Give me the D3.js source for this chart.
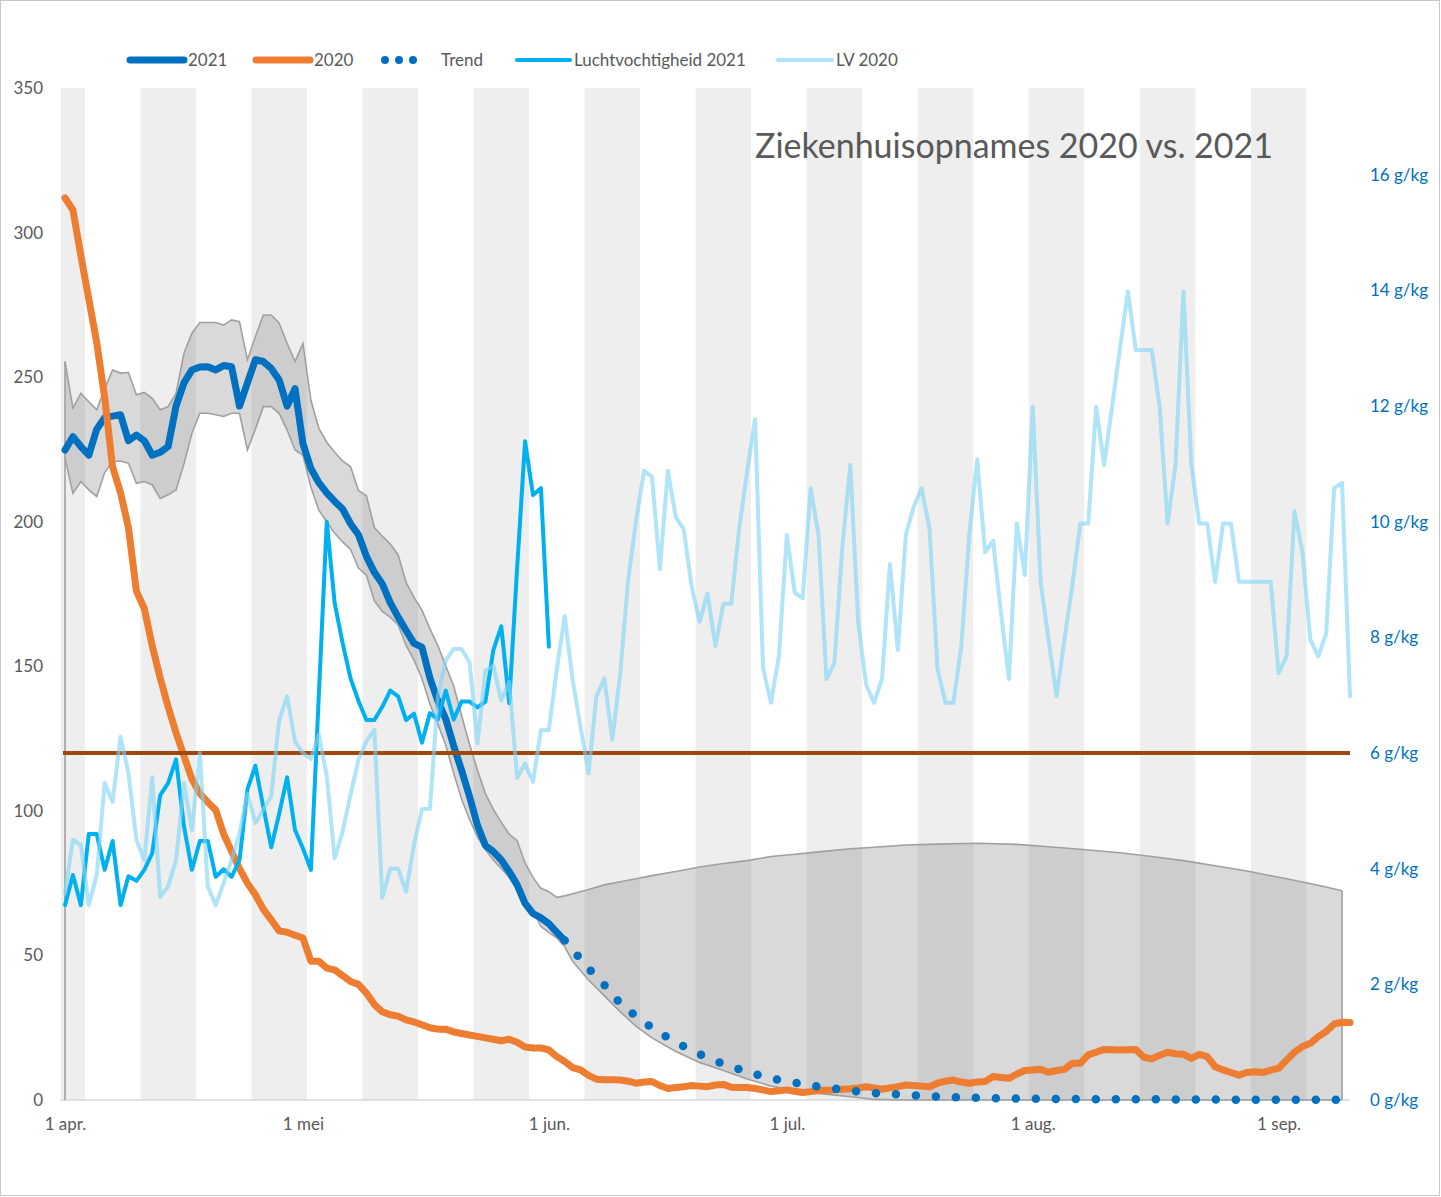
<!DOCTYPE html>
<html><head><meta charset="utf-8">
<script src="https://cdn.jsdelivr.net/npm/d3@7"></script>
<style>body{margin:0;background:#fff} text{font-family:Lato,"Open Sans",sans-serif}</style>
</head><body><svg id="c" width="1441" height="1197"></svg>
<script>
// ---------- DATA (day index 0 = 1 april) ----------
const hosp2021 = [224.8,229.4,226,223,232,236,236.5,237,228,230,228,223,224,226,240,248,252.5,253.5,253.6,252.5,254,253.6,240,248,256,255.4,253,249,240,246,
  227,218.4,213.5,210,207,204.4,199.3,195.5,188,182.5,178.5,172,167,162.4,157.9,156.6,146,138,131.8,122.5,114,105,95,88,85.9,83,79,74.4,68,64.5,63,61,58,55.2];
const hosp2020 = [312,307.8,292,277,262,243,219,210,198,176,170,157,146,136,127,119,111,106,103,100.3,92,86,80,75,71,66,62.3,58.5,58,57,
  56,48,48,45.6,45,43,41,40,37,33,30.5,29.5,29,27.7,27,26,25,24.5,24.5,23.5,23,22.5,22,21.5,21,20.5,21,20,18.3,18,
  18,17.3,15,13.3,11.2,10.4,8.5,7.2,7,7,6.9,6.5,5.8,6.2,6.4,5,4,4.3,4.6,5,4.8,4.6,5.2,5.4,4.4,4.3,4.3,4,3.5,2.9,
  3.2,3.5,3,2.6,2.9,3.3,3.4,3.5,3.7,3.9,4.2,4.6,4.2,3.7,4.2,4.6,5.2,5,4.8,4.6,5.8,6.5,6.9,6.2,5.8,6.2,6.4,8.1,7.8,7.5,
  9,10.2,10.4,10.6,9.6,10.2,10.6,12.7,12.7,15.6,16.5,17.5,17.4,17.3,17.4,17.5,14.8,14.2,15.5,16.5,16,15.8,14.4,15.8,15,11.5,
  10.4,9.5,8.6,9.5,9.8,9.5,10.3,11,13.8,16.5,18.5,19.6,21.9,23.7,26.3,26.9,26.8];
const trendDays   = [63,64,66,68,70,72,74,76,78,80,83,86,89,92,95,98,101,104,107,110,114,120,130,140,150,161];
const trendValues = [55.2,52,45.5,39.8,33.5,29,25,21.6,18.6,15.9,12.5,9.8,7.5,6,4.6,3.6,2.6,2.1,1.6,1.2,0.8,0.5,0.3,0.2,0.1,0.1];
const bandDays = [0,1,2,3,4,5,6,7,8,9,10,11,12,13,14,15,16,17,18,19,20,21,22,23,24,25,26,27,28,29,30,31,32,33,34,35,36,37,38,39,
  40,41,42,43,44,45,46,47,48,49,50,51,52,53,54,55,56,57,58,59,60,61,62,63,
  64,66,68,70,72,74,77,80,83,86,89,92,95,99,102,106,110,115,120,124,128,133,137,141,145,149,154,158,161];
const bandUpper = [255.4,239.3,244.4,241.5,238.7,246,252.5,251.4,251.6,243.9,244.7,242.7,238.7,239.8,244.4,258.3,265.2,268.9,268.9,268.9,
  268,269.8,269.2,256,264,271.5,271.5,268.7,261.7,255.4,261.7,242,232.3,227.5,224,221,219,210.8,209,198,
  195,192.3,188.5,179,173.8,169.4,163,157.2,150.2,143.2,133,123,114,106,100.5,96,92,89.7,82,77,73.2,72,70.1,70.6,
  71.3,72.8,74.4,75.5,76.5,77.6,79,80.6,81.8,82.8,84.2,85,85.8,86.9,87.4,88.2,88.5,88.8,88.4,87.6,86.7,85.5,84.2,82.8,81,79.2,76.5,74.3,72.4];
const bandLower = [222,209.8,213.9,211,208.7,217,220.8,221,220.2,213.3,213.9,212.7,208,209.3,211,220,230.6,237.5,237.5,237,
  236.4,237.5,237.5,224.8,232,239.8,239.8,237.5,231.7,224.8,223,212,204,200,196,193,190.4,184,181.5,172.6,
  169,167,164.3,157.2,152.1,145.8,137,130,122.8,113,104,97,91,86.5,83,80.1,77,73,69.3,65.5,60,58,56,53,
  48,41.5,36,30.5,25.5,21.5,16.8,13,10.2,7.3,4.8,3.4,2.3,1.1,0.2,0,0,0,0,0,0,0,0,0,0,0,0,0,0];
const lh2021 = [3.37,3.89,3.37,4.6,4.6,3.98,4.48,3.37,3.87,3.79,3.98,4.27,5.27,5.48,5.89,4.73,3.98,4.48,4.48,3.86,
  3.99,3.86,4.15,5.37,5.78,5.07,4.37,4.95,5.58,4.67,4.35,3.98,7.0,10.0,8.59,7.9,7.29,6.9,6.57,6.57,
  6.8,7.08,6.98,6.57,6.68,6.18,6.69,6.58,7.08,6.58,6.89,6.89,6.79,6.89,7.78,8.19,6.86,9.2,11.39,10.46,10.58,7.84];
const lv2020 = [3.57,4.5,4.41,3.37,3.89,5.48,5.16,6.28,5.65,4.5,4.15,5.58,3.51,3.69,4.15,5.48,4.67,6.0,3.69,3.37,
  3.75,4.15,4.61,5.3,4.79,5.02,5.25,6.57,6.98,6.2,6.0,5.9,6.32,5.6,4.18,4.64,5.28,5.89,6.2,6.4,
  3.5,4.0,4.0,3.6,4.42,5.03,5.03,6.97,7.6,7.8,7.8,7.57,6.17,7.42,7.51,6.91,7.23,5.57,5.82,5.5,
  6.4,6.4,7.45,8.37,7.26,6.45,5.65,6.98,7.29,6.23,7.38,8.99,10.03,10.88,10.78,9.18,10.88,10.08,9.87,8.88,
  8.27,8.76,7.85,8.58,8.58,9.89,10.87,11.77,7.47,6.87,7.67,9.77,8.77,8.68,10.58,9.77,7.28,7.56,9.57,10.98,
  8.26,7.18,6.87,7.28,9.27,7.78,9.77,10.26,10.58,9.86,7.45,6.87,6.87,7.85,9.77,11.08,9.47,9.67,8.42,7.28,
  9.97,9.08,11.99,8.96,7.96,6.98,7.96,8.91,9.97,9.97,11.99,10.98,11.99,13.0,13.98,12.97,12.97,12.97,11.99,9.97,
  10.98,13.98,10.98,9.97,9.97,8.96,9.97,9.97,8.96,8.96,8.96,8.96,8.96,7.38,7.67,10.18,9.48,7.96,7.67,8.07,
  10.58,10.67,6.98];
const thresholdValue = 120;             // 6 g/kg
const stripeStarts = [-4,10,24,38,52,66,80,94,108,122,136,150]; // shaded weeks (7 days)
const xTickDays   = [0,30,61,91,122,153];
const xTickLabels = ["1 apr.","1 mei","1 jun.","1 jul.","1 aug.","1 sep."];
const yTicks      = [0,50,100,150,200,250,300,350];
const yRightTicks = [0,2,4,6,8,10,12,14,16];
const legendItems = ["2021","2020","Trend","Luchtvochtigheid 2021","LV 2020"];
const titleText = "Ziekenhuisopnames 2020 vs. 2021";

// ---------- DRAW ----------
const svg = d3.select("#c");
const C = {blue:"#0070c0", orange:"#ed7d31", lh:"#00b0f0", lv:"#7fd3f5", brown:"#9e480e", txt:"#595959"};
const x = d3.scaleLinear().domain([0,162]).range([65,1350]);
const y = d3.scaleLinear().domain([0,350]).range([1100,88]);
const yR = d3.scaleLinear().domain([0,17.5]).range([1100,88]);

svg.append("rect").attr("x",0.5).attr("y",0.5).attr("width",1439).attr("height",1195)
  .attr("fill","#fff").attr("stroke","#c8c8c8");

// stripes
const xMin = x(-0.5), xMax = x(162.5);
svg.append("g").selectAll("rect").data(stripeStarts).join("rect")
  .attr("x", d => Math.max(xMin, x(d-0.5)))
  .attr("width", d => Math.min(xMax, x(d+6.5)) - Math.max(xMin, x(d-0.5)))
  .attr("y", y(350)).attr("height", y(0)-y(350)).attr("fill","#eeeeee");

// x axis line
svg.append("line").attr("x1",60).attr("x2",x(162)).attr("y1",y(0)).attr("y2",y(0))
  .attr("stroke","#d9d9d9").attr("stroke-width",1.5);

// band
const band = bandDays.map((d,i)=>({d, u:bandUpper[i], l:bandLower[i]}));
svg.append("path").datum(band)
  .attr("d", d3.area().x(p=>x(p.d)).y0(p=>y(p.l)).y1(p=>y(p.u)))
  .attr("fill","rgb(128,128,128)").attr("fill-opacity",0.3);
const edge = d3.line().x(p=>x(p.d));
svg.append("path").datum(band).attr("d", edge.y(p=>y(p.u)))
  .attr("fill","none").attr("stroke","#a0a0a0").attr("stroke-width",1.6);
svg.append("path").datum(band).attr("d", d3.line().x(p=>x(p.d)).y(p=>y(p.l)))
  .attr("fill","none").attr("stroke","#a0a0a0").attr("stroke-width",1.6);
[band[0], band[band.length-1]].forEach(p=>{
  svg.append("line").attr("x1",x(p.d)).attr("x2",x(p.d)).attr("y1",y(p.u)).attr("y2",y(0))
    .attr("stroke","#a0a0a0").attr("stroke-width",1.6);
});

const line = d3.line().x((v,i)=>x(i)).y(v=>y(v)).curve(d3.curveLinear);
// 2021
svg.append("path").datum(hosp2021).attr("d", line)
  .attr("fill","none").attr("stroke",C.blue).attr("stroke-width",7).attr("stroke-linejoin","round").attr("stroke-linecap","round");
// 2020
svg.append("path").datum(hosp2020).attr("d", line)
  .attr("fill","none").attr("stroke",C.orange).attr("stroke-width",7).attr("stroke-linejoin","round").attr("stroke-linecap","round");
// trend
svg.append("path").datum(trendDays.map((d,i)=>[d,trendValues[i]]))
  .attr("d", d3.line().x(p=>x(p[0])).y(p=>y(p[1])).curve(d3.curveMonotoneX))
  .attr("fill","none").attr("stroke",C.blue).attr("stroke-width",8.5)
  .attr("stroke-linecap","round").attr("stroke-dasharray","0 20");
// threshold
svg.append("line").attr("x1",x(0)-2).attr("x2",x(162)).attr("y1",y(thresholdValue)).attr("y2",y(thresholdValue))
  .attr("stroke",C.brown).attr("stroke-width",4);
// humidity 2021
const lineR = d3.line().x((v,i)=>x(i)).y(v=>yR(v));
svg.append("path").datum(lh2021).attr("d", lineR)
  .attr("fill","none").attr("stroke",C.lh).attr("stroke-width",4).attr("stroke-linejoin","round").attr("stroke-linecap","round");
// LV 2020
svg.append("path").datum(lv2020).attr("d", lineR)
  .attr("fill","none").attr("stroke",C.lv).attr("stroke-opacity",0.62).attr("stroke-width",4).attr("stroke-linejoin","round").attr("stroke-linecap","round");

// font fit
const probe = svg.append("text").attr("font-size",16).text(legendItems[3]);
const fs = 16 * 172 / probe.node().getComputedTextLength();
probe.remove();

// axes
const gL = svg.append("g").attr("transform","translate(53,0)")
  .call(d3.axisLeft(y).tickValues(yTicks).tickSize(0).tickPadding(10));
gL.select(".domain").remove();
gL.selectAll("text").attr("font-size",fs).attr("fill",C.txt).style("font-family","Lato");
const gR = svg.append("g").attr("transform","translate(1360,0)")
  .call(d3.axisRight(yR).tickValues(yRightTicks).tickSize(0).tickPadding(10).tickFormat(d=>d+" g/kg"));
gR.select(".domain").remove();
gR.selectAll("text").attr("font-size",fs).attr("fill",C.blue).style("font-family","Lato");
const gB = svg.append("g").attr("transform","translate(0,1110)")
  .call(d3.axisBottom(x).tickValues(xTickDays).tickSize(0).tickPadding(8).tickFormat((d,i)=>xTickLabels[i]));
gB.select(".domain").remove();
gB.selectAll("text").attr("font-size",fs).attr("fill",C.txt).style("font-family","Lato");

// legend
const lg = svg.append("g");
const lgY = 60;
const samples = [
  {x1:130,x2:184,tx:188,color:C.blue,w:7},
  {x1:256,x2:310,tx:314,color:C.orange,w:7},
  {x1:385,x2:427,tx:441,color:C.blue,w:8,dash:"0 14"},
  {x1:517,x2:570,tx:574,color:C.lh,w:4},
  {x1:778,x2:832,tx:836,color:C.lv,w:4,op:0.62}
];
samples.forEach((s,i)=>{
  const l = lg.append("line").attr("x1",s.x1).attr("x2",s.x2).attr("y1",lgY).attr("y2",lgY)
    .attr("stroke",s.color).attr("stroke-width",s.w).attr("stroke-linecap","round")
    .attr("stroke-opacity", s.op||1);
  if (s.dash) l.attr("stroke-dasharray",s.dash);
  lg.append("text").attr("x",s.tx).attr("y",lgY).attr("dy","0.35em")
    .attr("font-size",fs).attr("fill",C.txt).text(legendItems[i]);
});

// title
const t = svg.append("text").attr("x",755).attr("y",158).attr("font-size",32).attr("fill",C.txt).text(titleText);
t.attr("font-size", 32*518/t.node().getComputedTextLength());
</script></body></html>
